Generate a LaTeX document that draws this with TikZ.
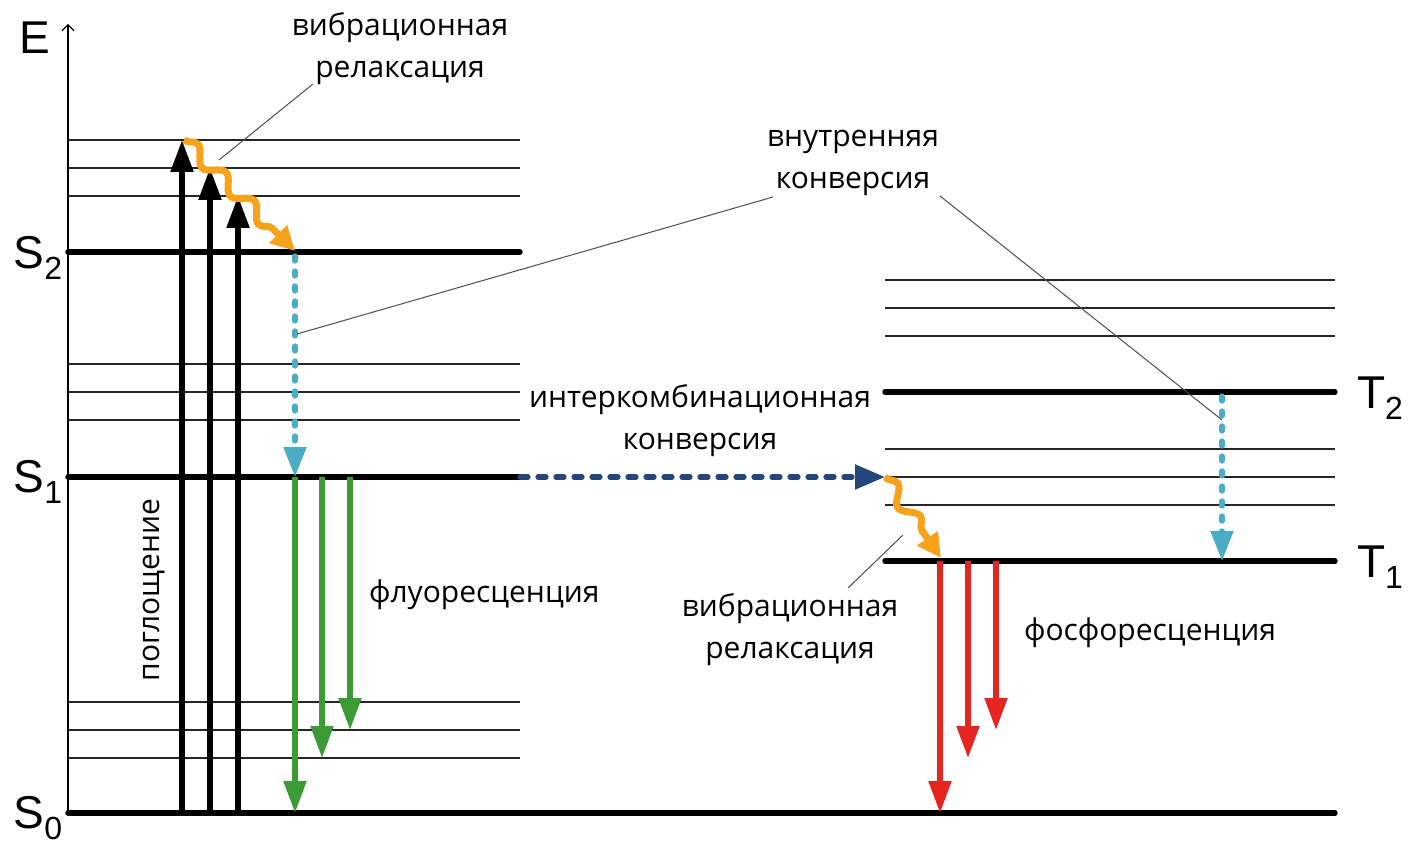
\documentclass[tikz,border=0pt]{standalone}
\usepackage{fontspec}
\setmainfont{Open Sans}
\newfontfamily\lblfont{Liberation Sans}
\usepackage{tikz}
\usetikzlibrary{arrows.meta, decorations.pathmorphing}

\definecolor{wavyorange}{HTML}{F7A21B}
\definecolor{fluogreen}{HTML}{3C9B35}
\definecolor{phosred}{HTML}{E52520}
\definecolor{icblue}{HTML}{4BACC6}
\definecolor{iscblue}{HTML}{24467A}

% state label with a lowered index
\newcommand{\statelbl}[2]{#1\raisebox{-0.25em}{\fontsize{16}{16}\selectfont #2}}

\begin{document}
\begin{tikzpicture}[
    x=0.5pt, y=-0.5pt,
    thicklvl/.style={line width=2.7pt, line cap=round},
    thinlvl/.style={line width=0.75pt, black!85},
    absorb/.style={-{Triangle[length=16pt,width=11pt]}, line width=2.7pt},
    fluo/.style={-{Triangle[length=16pt,width=11pt]}, line width=2.6pt, fluogreen},
    phos/.style={-{Triangle[length=16pt,width=11pt]}, line width=2.6pt, phosred},
    ic/.style={-{Triangle[length=15pt,width=11pt]}, line width=2.6pt, icblue, line cap=round, dash pattern=on 2.5pt off 5pt},
    isc/.style={-{Triangle[length=15pt,width=12pt]}, line width=2.6pt, iscblue, line cap=round, dash pattern=on 4pt off 5pt},
    relax/.style={-{Triangle[length=12pt,width=12pt]}, line width=3.5pt, wavyorange, decorate,
                  decoration={snake, amplitude=3.5pt, segment length=20pt, post length=13pt}},
    txt/.style={font=\fontsize{15}{21}\selectfont, align=center},
    lbl/.style={font=\lblfont\fontsize{23}{23}\selectfont, inner sep=0pt},
    lead/.style={line width=0.5pt, black!70},
  ]
    \useasboundingbox (0,0) rectangle (1420,845);

    % ===== energy axis =====
    \coordinate (axB) at (68,813);
    \coordinate (axT) at (68,24);
    \draw[line width=0.6pt, -{Straight Barb[length=3pt,width=6pt]}] (axB) -- (axT);
    \node[lbl] (E) at (35,38) {E};

    % ===== singlet levels (left) =====
    \coordinate (S2L) at (68,252);
    \coordinate (S1L) at (68,477);
    \coordinate (S0L) at (68,813);
    \foreach \y in {140,168,196,364,392,420,702,730,758}
      \draw[thinlvl] (68,\y) -- (520,\y);
    \draw[thicklvl] (S2L) -- (520,252);
    \draw[thicklvl] (S1L) -- (520,477);
    \draw[thicklvl] (S0L) -- (1335,813);
    \node[lbl] (S2) at (38,258) {\statelbl{S}{2}};
    \node[lbl] (S1) at (38,482) {\statelbl{S}{1}};
    \node[lbl] (S0) at (38,818) {\statelbl{S}{0}};

    % ===== triplet levels (right) =====
    \coordinate (T2L) at (885,392);
    \coordinate (T1L) at (885,561);
    \foreach \y in {280,308,336,449,477,505}
      \draw[thinlvl] (885,\y) -- (1335,\y);
    \draw[thicklvl] (T2L) -- (1335,392);
    \draw[thicklvl] (T1L) -- (1335,561);
    \node[lbl] (T2) at (1380,398) {\statelbl{T}{2}};
    \node[lbl] (T1) at (1380,567) {\statelbl{T}{1}};

    % ===== absorption =====
    \coordinate (v1) at (182,140);
    \coordinate (v2) at (210,168);
    \coordinate (v3) at (238,196);
    \foreach \i in {1,2,3}
      \draw[absorb] (v\i |- S0L) -- (v\i);
    \node[txt, rotate=90] (abs) at (154,590) {поглощение};

    % ===== vibrational relaxation S2 =====
    \coordinate (w1s) at (184,140);
    \coordinate (w1e) at (295,251);
    \draw[relax] (w1s) -- (w1e);

    % ===== internal conversion S2 -> S1 =====
    \coordinate (ic1) at (295,256);
    \draw[ic] (ic1) -- (ic1 |- S1L);

    % ===== fluorescence =====
    \coordinate (f1) at (295,813);
    \coordinate (f2) at (322,758);
    \coordinate (f3) at (350,730);
    \foreach \i in {1,2,3}
      \draw[fluo] (f\i |- S1L) -- (f\i);
    \node[txt, anchor=west] (fluoT) at (362,595) {флуоресценция};

    % ===== intersystem crossing =====
    \coordinate (iscS) at (520,477);
    \coordinate (iscE) at (885,477);
    \draw[isc] (iscS) -- (iscE);
    \node[txt] (iscT) at (700,421) {интеркомбинационная\\конверсия};

    % ===== vibrational relaxation T =====
    \coordinate (w2e) at (941,558);
    \draw[relax] (iscE) -- (w2e);

    % ===== internal conversion T2 -> T1 =====
    \coordinate (ic2) at (1222,396);
    \draw[ic] (ic2) -- (ic2 |- T1L);

    % ===== phosphorescence =====
    \coordinate (r1) at (940,813);
    \coordinate (r2) at (968,758);
    \coordinate (r3) at (996,730);
    \foreach \i in {1,2,3}
      \draw[phos] (r\i |- T1L) -- (r\i);
    \node[txt, anchor=west] (phosT) at (1017,633) {фосфоресценция};

    % ===== captions with leaders =====
    \node[txt] (vibU) at (400,49) {вибрационная\\релаксация};
    \node[txt] (intC) at (853,163) {внутренняя\\конверсия};
    \node[txt] (vibL) at (790,630) {вибрационная\\релаксация};
    \coordinate (vibUend) at (313,84);
    \coordinate (vibUon)  at (219,160);
    \coordinate (intCa) at (773,197);
    \coordinate (intCb) at (940,196);
    \coordinate (icOn1) at (297,334);
    \coordinate (icOn2) at (1222,420);
    \coordinate (vibLend) at (848,588);
    \coordinate (vibLon)  at (903,535);
    \draw[lead] (vibUon) -- (vibUend);
    \draw[lead] (icOn1) -- (intCa);
    \draw[lead] (intCb) -- (icOn2);
    \draw[lead] (vibLon) -- (vibLend);
  \end{tikzpicture}
\end{document}
